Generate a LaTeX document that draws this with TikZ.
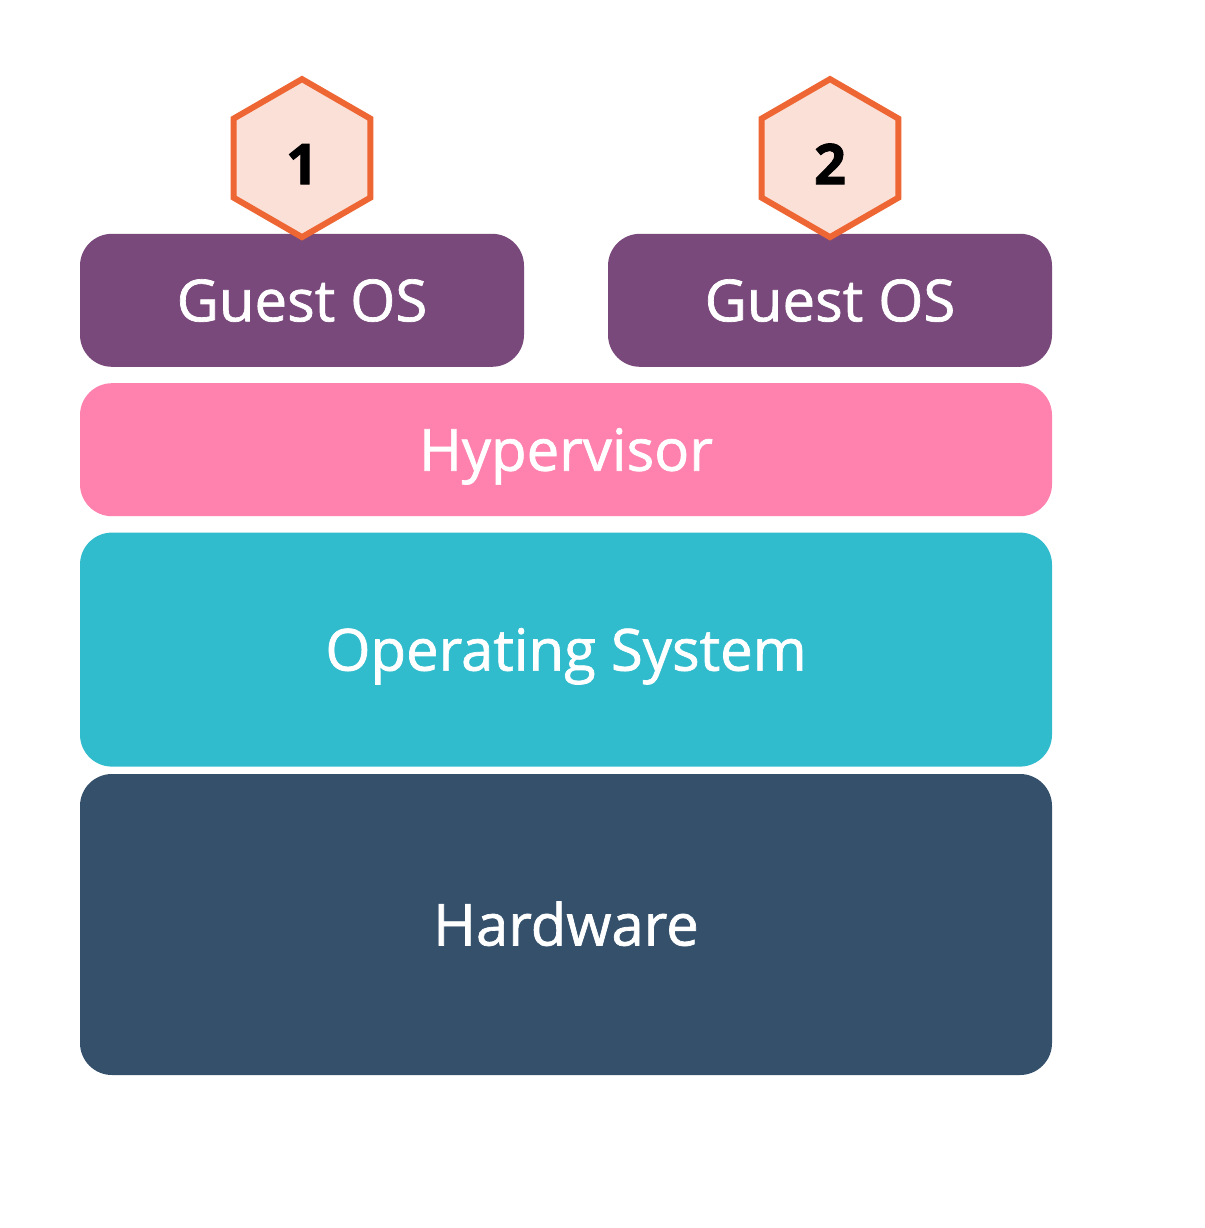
\documentclass[tikz,border=0pt]{standalone}
\usepackage{fontspec}
\setmainfont{Open Sans}
\newfontfamily\semifont{Open Sans}[FakeBold=1.2]
\newfontfamily\heavyfont{Open Sans}[BoldFeatures={FakeBold=1.6}]
\usetikzlibrary{positioning, shapes.geometric}

\definecolor{guestpurple}{HTML}{78497A}
\definecolor{hyperpink}{HTML}{FF82AE}
\definecolor{oscyan}{HTML}{31BCCD}
\definecolor{hwblue}{HTML}{34506B}
\definecolor{hexfill}{HTML}{FAE0D6}
\definecolor{hexline}{HTML}{EE6633}

\begin{document}
\begin{tikzpicture}[x=1pt, y=-1pt,
			layer/.style={rounded corners=32pt, inner sep=0pt, text=white,
				minimum width=972pt, text height=42pt, text depth=0pt,
				font=\fontsize{58}{64}\selectfont\semifont},
			guest/.style={layer, fill=guestpurple, minimum width=444pt, minimum height=133pt},
			hyper/.style={layer, fill=hyperpink, minimum height=133pt},
			opsys/.style={layer, fill=oscyan, minimum height=234pt},
			hware/.style={layer, fill=hwblue, minimum height=301pt},
			hexa/.style={regular polygon, regular polygon sides=6, shape border rotate=30,
				minimum size=158pt, inner sep=0pt, draw=hexline, line width=6pt, fill=hexfill,
				text height=52pt, text depth=0pt, font=\fontsize{56}{60}\selectfont\heavyfont\bfseries}
			]
			\useasboundingbox (0,0) rectangle (1204,1228);
			\node[hware] (hw) at (566,924.5) {Hardware};
			\node[opsys, above=7pt of hw] (os) {Operating System};
			\node[hyper, above=16pt of os] (hyp) {Hypervisor};
			\node[guest, above right=16pt and 0pt of hyp.north west] (guest1) {Guest OS};
			\node[guest, above left=16pt and 0pt of hyp.north east] (guest2) {Guest OS};
			
			\node[hexa, above=-7pt of guest1] (num1) {1};
			\node[hexa, above=-7pt of guest2] (num2) {2};
	\end{tikzpicture}
\end{document}
